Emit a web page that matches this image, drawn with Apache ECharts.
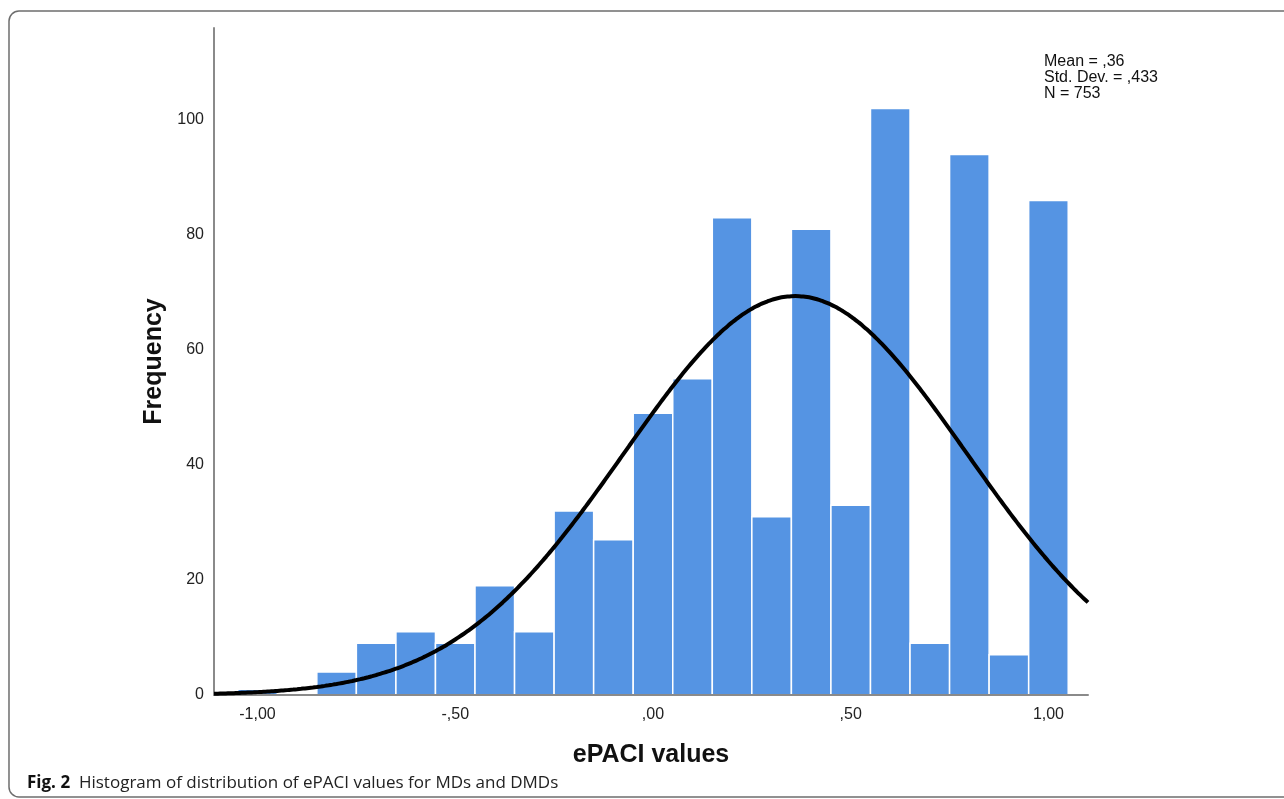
<!DOCTYPE html>
<html>
<head>
<meta charset="utf-8">
<script src="https://cdn.jsdelivr.net/npm/echarts@6/dist/echarts.min.js"></script>
<style>
  html, body { margin: 0; padding: 0; background: #fff; }
  #chart { width: 1284px; height: 799px; }
</style>
</head>
<body>
<div id="chart"></div>
<script>
// bin centres (width 0.1) and counts
const binCenters = [-1.0, -0.9, -0.8, -0.7, -0.6, -0.5, -0.4, -0.3, -0.2, -0.1, 0.0, 0.1, 0.2, 0.3, 0.4, 0.5, 0.6, 0.7, 0.8, 0.9, 1.0]
const binCounts = [1, 0, 4, 9, 11, 9, 19, 11, 32, 27, 49, 55, 83, 31, 81, 33, 102, 9, 94, 7, 86]
const binWidth = 0.1
const xTicks = [-1, -0.5, 0, 0.5, 1]
const yTicks = [0, 20, 40, 60, 80, 100]
// summary shown on the chart
const statMean = 0.36
const statSd = 0.433
const statN = 753

// fitted normal curve (SPSS overlay) from the stats above
const curve = []
for (let i = 0; i <= 221; i++) {
  const x = -1.11 + i * 0.01
  const z = (x - statMean) / statSd
  curve.push([x, statN * binWidth / (statSd * Math.sqrt(2 * Math.PI)) * Math.exp(-0.5 * z * z)])
}

function fmt(v) {
  // SPSS style: comma decimal, no leading zero
  let s = Math.abs(v).toFixed(2).replace('.', ',')
  if (s.startsWith('0')) s = s.slice(1)
  return (v < 0 ? '-' : '') + s
}

const chart = echarts.init(document.getElementById('chart'))
chart.setOption({
  animation: false,
  grid: { left: 214, right: 196, top: 28, bottom: 104 },
  xAxis: {
    type: 'value',
    min: -1.11,
    max: 1.1,
    z: 3,
    axisLine: { onZero: false, lineStyle: { color: '#8a8a8a', width: 2 } },
    axisTick: { show: false },
    splitLine: { show: false },
    axisLabel: {
      customValues: xTicks,
      formatter: fmt,
      color: '#222',
      fontFamily: 'Liberation Sans',
      fontSize: 16,
      margin: 12
    },
    name: 'ePACI values',
    nameLocation: 'middle',
    nameGap: 48,
    nameTextStyle: { fontFamily: 'Liberation Sans', fontWeight: 'bold', fontSize: 25, color: '#111' }
  },
  yAxis: {
    type: 'value',
    min: 0,
    max: 116,
    z: 3,
    axisLine: { show: true, onZero: false, lineStyle: { color: '#8a8a8a', width: 2 } },
    axisTick: { show: false },
    splitLine: { show: false },
    axisLabel: {
      customValues: yTicks,
      color: '#222',
      fontFamily: 'Liberation Sans',
      fontSize: 16,
      margin: 10
    },
    name: 'Frequency',
    nameLocation: 'middle',
    nameGap: 47,
    nameTextStyle: { fontFamily: 'Liberation Sans', fontWeight: 'bold', fontSize: 25, color: '#111' }
  },
  series: [
    {
      type: 'custom',
      data: binCenters.map((c, i) => [c, binCounts[i]]),
      renderItem: function (params, api) {
        const c = api.value(0)
        const h = api.value(1)
        if (!h) return
        const p0 = api.coord([c - binWidth / 2, h])
        const p1 = api.coord([c + binWidth / 2, 0])
        return {
          type: 'rect',
          shape: { x: p0[0], y: p0[1], width: p1[0] - p0[0], height: p1[1] - p0[1] },
          style: { fill: '#5594e3', stroke: '#ffffff', lineWidth: 1.5 }
        }
      },
      z: 2
    },
    {
      type: 'line',
      data: curve,
      showSymbol: false,
      smooth: true,
      lineStyle: { color: '#000', width: 4 },
      z: 4
    }
  ],
  graphic: [
    {
      type: 'rect',
      shape: { x: 9, y: 11, width: 1300, height: 786, r: 10 },
      style: { fill: 'none', stroke: '#6e6e6e', lineWidth: 1.5 },
      silent: true
    },
    {
      type: 'text',
      left: 1044,
      top: 54,
      style: {
        text: 'Mean = ,36\nStd. Dev. = ,433\nN = 753',
        fontFamily: 'Liberation Sans',
        fontSize: 16,
        lineHeight: 16,
        fill: '#111'
      }
    },
    {
      type: 'text',
      left: 27,
      top: 775,
      style: {
        rich: {
          b: { fontFamily: 'Open Sans', fontWeight: 'bold', fontSize: 17, fill: '#111' },
          n: { fontFamily: 'Open Sans', fontSize: 17, fill: '#222' }
        },
        text: '{b|Fig. 2}{n|  Histogram of distribution of ePACI values for MDs and DMDs}'
      }
    }
  ]
})
</script>
</body>
</html>
